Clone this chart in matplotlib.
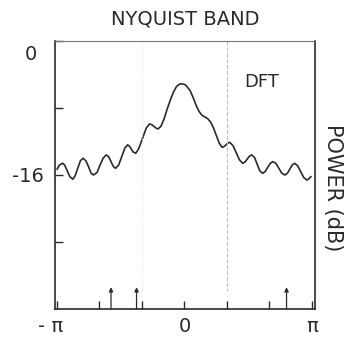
import numpy as np
import matplotlib.pyplot as plt

# spectrum (frequency in rad, power in dB)
freq = [-3.14, -3.08, -3.00, -2.955, -2.89, -2.825, -2.75, -2.695, -2.63, -2.565,
        -2.50, -2.43, -2.365, -2.30, -2.24, -2.155, -2.08, -2.005, -1.93, -1.87,
        -1.81, -1.75, -1.70, -1.62, -1.545, -1.47, -1.40, -1.355, -1.31, -1.265,
        -1.20, -1.13, -1.035, -0.94, -0.86, -0.80, -0.75, -0.70, -0.65, -0.58,
        -0.50, -0.43, -0.35, -0.27, -0.19, -0.10, 0.02, 0.14, 0.22, 0.30,
        0.36, 0.44, 0.52, 0.58, 0.65, 0.72, 0.79, 0.86, 0.93, 0.98,
        1.025, 1.07, 1.12, 1.20, 1.28, 1.36, 1.44, 1.495, 1.55, 1.605,
        1.66, 1.73, 1.795, 1.86, 1.93, 1.99, 2.055, 2.12, 2.18, 2.255,
        2.33, 2.405, 2.48, 2.54, 2.60, 2.66, 2.72, 2.795, 2.87, 2.945,
        3.02, 3.07, 3.12]
power = [-15.3, -14.8, -14.6, -14.8, -15.5, -16.2, -16.5, -16.1, -15.2, -14.3,
         -14.0, -14.3, -15.0, -15.8, -16.0, -15.7, -14.8, -14.0, -13.6, -13.8,
         -14.4, -15.0, -15.2, -14.8, -13.8, -12.8, -12.4, -12.55, -12.9, -13.25,
         -13.4, -12.9, -11.65, -10.4, -9.9, -10.0, -10.2, -10.4, -10.5, -10.2,
         -9.3, -8.2, -7.1, -6.1, -5.4, -5.1, -5.2, -5.9, -6.8, -7.8,
         -8.4, -8.9, -9.1, -9.3, -9.7, -10.4, -11.3, -12.2, -12.7, -12.6,
         -12.4, -12.2, -12.1, -12.5, -13.35, -14.2, -14.6, -14.45, -14.1, -13.75,
         -13.6, -13.9, -14.7, -15.5, -15.8, -15.6, -15.1, -14.6, -14.4, -14.6,
         -15.2, -15.8, -16.0, -15.8, -15.3, -14.8, -14.6, -14.9, -15.6, -16.3,
         -16.6, -16.45, -16.2]

# true sinusoid frequencies (arrows)
arrow_freq = [-1.81, -1.18, 2.52]

xticks = [-np.pi, -2 * np.pi / 3, -np.pi / 3, 0, np.pi / 3, 2 * np.pi / 3, np.pi]
xticklabels = ['- π  ', '', '', '0', '', '', 'π']
yticks = [0, -8, -16, -24]
yticklabels = ['', '', '-16', '']

ink = '#2a2a2a'

fig = plt.figure(figsize=(3.45, 3.38), dpi=100)
ax = fig.add_axes([0.1594, 0.0858, 0.7536, 0.7929])

ax.plot(freq, power, c=ink, lw=1.2)

# faint guide lines
ax.plot([-np.pi / 3, -np.pi / 3], [0, -30], c='#e2e2e2', lw=0.8, ls=':')
ax.plot([np.pi / 3, np.pi / 3], [0, -29.8], c='#bdbdbd', lw=0.8, ls='--')

for f in arrow_freq:
    ax.annotate('', xy=(f, -29.4), xytext=(f, -32),
                arrowprops=dict(arrowstyle='-|>', color=ink, lw=0.9,
                                mutation_scale=6, shrinkA=0, shrinkB=0))

ax.text(1.91, -4.9, 'DFT', fontsize=13, color=ink, ha='center', va='center')

ax.set_xlim(-np.pi - 0.05, np.pi + 0.08)
ax.set_ylim(-32, 0)
ax.set_xticks(xticks, xticklabels)
ax.set_yticks(yticks, yticklabels)
ax.tick_params(direction='in', length=6, width=1.0, color=ink,
               labelcolor=ink, labelsize=14, pad=8)
ax.tick_params(axis='x', pad=6)
for side in ['left', 'bottom', 'right']:
    ax.spines[side].set_color(ink)
    ax.spines[side].set_linewidth(1.2)
ax.spines['top'].set_color('#777777')
ax.spines['top'].set_linewidth(0.8)

# the 0 label sits a bit below the top corner
ax.text(-0.092, 0.948, '0', transform=ax.transAxes, fontsize=14, color=ink,
        ha='center', va='center')

ax.set_title('NYQUIST BAND', fontsize=14, color=ink, pad=12)
fig.text(333 / 345, 1 - 188 / 338, 'POWER (dB)', fontsize=15, color=ink,
         rotation=-90, ha='center', va='center')

fig.savefig('out.png', dpi=100)
